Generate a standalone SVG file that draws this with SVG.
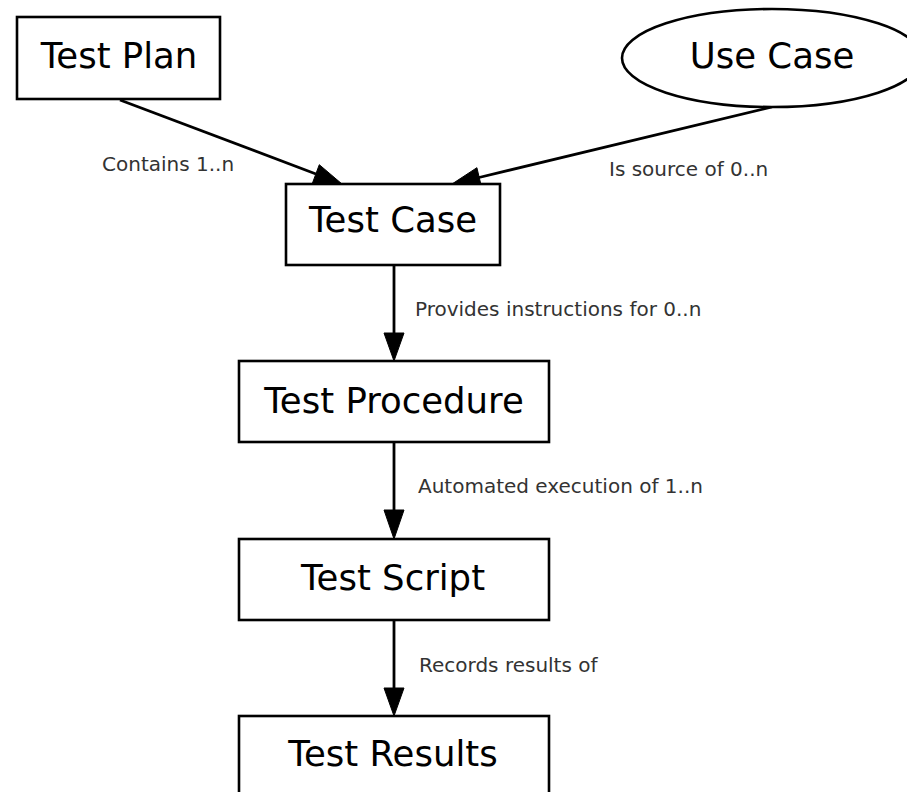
<svg xmlns="http://www.w3.org/2000/svg" width="907" height="792" viewBox="0 0 907 792">
<style>
.box{fill:#fff;stroke:#000;stroke-width:2.6}
.node{font-family:"DejaVu Sans",sans-serif;font-size:35.5px;fill:#000;text-anchor:middle}
.lbl{font-family:"DejaVu Sans",sans-serif;font-size:20px;fill:#333}
.edge{stroke:#000;stroke-width:2.8;fill:none}
.head{fill:#000;stroke:#000;stroke-width:1}
</style>
<rect width="907" height="792" fill="#fff"/>
<g id="connectors">
<line class="edge" x1="120" y1="100" x2="316" y2="174"/>
<polygon class="head" points="342,184 312.3,183.5 319.3,164.7"/>
<line class="edge" x1="772" y1="107" x2="479" y2="177.5"/>
<polygon class="head" points="452,184 476.9,167.7 481.5,187.1"/>
<line class="edge" x1="394" y1="265" x2="394" y2="334"/>
<polygon class="head" points="384,333 404,333 394,361"/>
<line class="edge" x1="394" y1="442" x2="394" y2="511"/>
<polygon class="head" points="384,510 404,510 394,539"/>
<line class="edge" x1="394" y1="620" x2="394" y2="689"/>
<polygon class="head" points="384,688 404,688 394,716"/>
<text class="lbl" x="102" y="171">Contains 1..n</text>
<text class="lbl" x="609" y="176">Is source of 0..n</text>
<text class="lbl" x="415" y="316">Provides instructions for 0..n</text>
<text class="lbl" x="418" y="493">Automated execution of 1..n</text>
<text class="lbl" x="419" y="672">Records results of</text>
</g>
<g id="test-plan">
<rect class="box" x="17" y="17" width="203" height="82"/>
<text class="node" x="119" y="68">Test Plan</text>
</g>
<g id="use-case">
<ellipse class="box" cx="772" cy="58" rx="150" ry="49"/>
<text class="node" x="772" y="68">Use Case</text>
</g>
<g id="test-case">
<rect class="box" x="286" y="184" width="214" height="81"/>
<text class="node" x="393" y="232">Test Case</text>
</g>
<g id="test-procedure">
<rect class="box" x="239" y="361" width="310" height="81"/>
<text class="node" x="394" y="413">Test Procedure</text>
</g>
<g id="test-script">
<rect class="box" x="239" y="539" width="310" height="81"/>
<text class="node" x="393" y="590">Test Script</text>
</g>
<g id="test-results">
<rect class="box" x="239" y="716" width="310" height="90"/>
<text class="node" x="393" y="766">Test Results</text>
</g>
</svg>
